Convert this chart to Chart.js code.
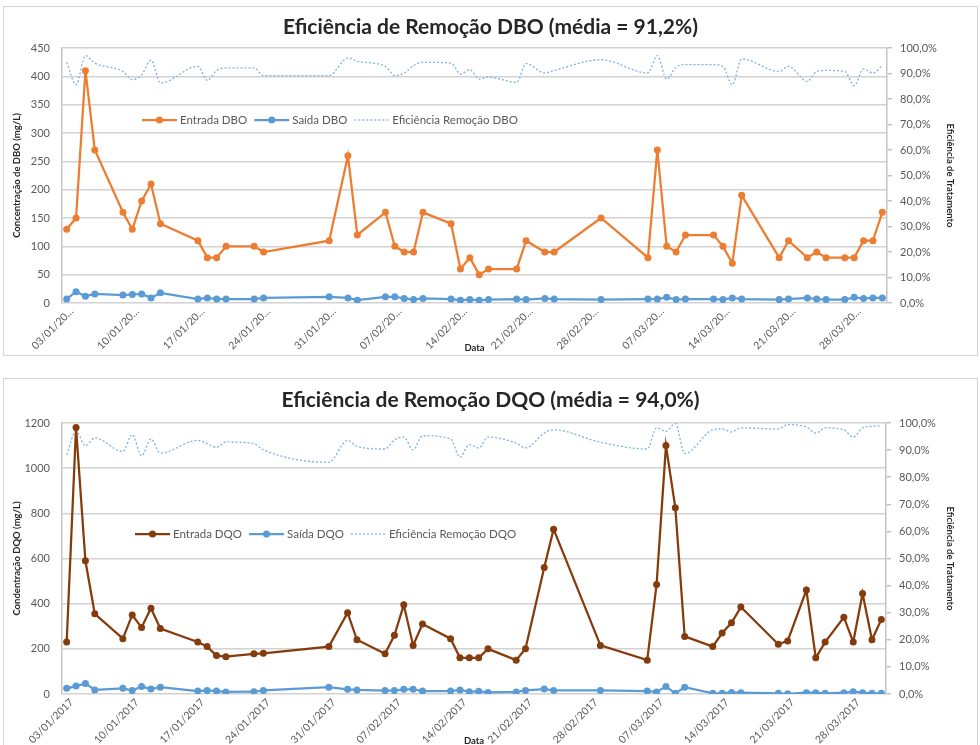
<!DOCTYPE html>
<html lang="pt">
<head>
<meta charset="utf-8">
<title>Eficiência de Remoção DBO / DQO</title>
<script src="https://cdn.jsdelivr.net/npm/chart.js@4.4.0/dist/chart.umd.min.js"></script>
<style>
  body { margin: 0; background: #fff; width: 980px; height: 745px; overflow: hidden; position: relative; }
  .caixa { position: absolute; left: 3px; width: 975px; border: 1px solid #d4d4d4; box-sizing: border-box; background: #fff; }
  #caixaDBO { top: 6px; height: 350px; }
  #caixaDQO { top: 378px; height: 370px; }
  canvas { display: block; }
</style>
</head>
<body>
<div class="caixa" id="caixaDBO"><canvas id="graficoDBO"></canvas></div>
<div class="caixa" id="caixaDQO"><canvas id="graficoDQO"></canvas></div>

<script>
// datas das amostras (2017)
const datas = ['03/01/2017', '04/01/2017', '05/01/2017', '06/01/2017', '09/01/2017', '10/01/2017', '11/01/2017',
  '12/01/2017', '13/01/2017', '17/01/2017', '18/01/2017', '19/01/2017', '20/01/2017', '23/01/2017', '24/01/2017',
  '31/01/2017', '02/02/2017', '03/02/2017', '06/02/2017', '07/02/2017', '08/02/2017', '09/02/2017', '10/02/2017',
  '13/02/2017', '14/02/2017', '15/02/2017', '16/02/2017', '17/02/2017', '20/02/2017', '21/02/2017', '23/02/2017',
  '24/02/2017', '01/03/2017', '06/03/2017', '07/03/2017', '08/03/2017', '09/03/2017', '10/03/2017', '13/03/2017',
  '14/03/2017', '15/03/2017', '16/03/2017', '20/03/2017', '21/03/2017', '23/03/2017', '24/03/2017', '25/03/2017',
  '27/03/2017', '28/03/2017', '29/03/2017', '30/03/2017', '31/03/2017'];

// marcas do eixo x (semanais)
const datasEixo = ['03/01/2017', '10/01/2017', '17/01/2017', '24/01/2017', '31/01/2017', '07/02/2017', '14/02/2017',
  '21/02/2017', '28/02/2017', '07/03/2017', '14/03/2017', '21/03/2017', '28/03/2017'];

// DBO (mg/L) e eficiência (%)
const entradaDBO = [130, 150, 410, 270, 160, 130, 180, 210, 140, 110, 80, 80, 100, 100, 90, 110, 260, 120, 160, 100,
  90, 90, 160, 140, 60, 80, 50, 60, 60, 110, 90, 90, 150, 80, 270, 100, 90, 120, 120, 100,
  70, 190, 80, 110, 80, 90, 80, 80, 80, 110, 110, 160];
const saidaDBO = [7, 20, 12, 16, 14, 15, 16, 9, 18, 7, 9, 7, 7, 7, 9, 11, 9, 5, 11, 11,
  8, 6, 8, 7, 5, 6, 5, 6, 7, 6, 8, 7, 6, 7, 7, 10, 6, 7, 7, 6,
  9, 7, 6, 7, 9, 7, 6, 6, 10, 8, 9, 9];
const eficienciaDBO = [94.4, 85.6, 97.0, 94.1, 90.8, 87.6, 89.5, 95.2, 86.3, 92.8, 87.3, 91.2, 92.2, 92.2, 89.2, 89.2,
  96.1, 94.8, 92.8, 89.2, 90.2, 93.1, 94.4, 94.1, 89.8, 91.5, 87.8, 88.6, 86.5, 93.9, 90.2, 91.2,
  95.4, 90.2, 97.0, 87.8, 92.5, 93.5, 93.5, 92.8, 85.6, 95.7, 90.8, 92.8, 86.9, 90.8, 91.2, 90.8,
  85.2, 91.8, 90.2, 93.1];

// DQO (mg/L) e eficiência (%)
const entradaDQO = [230, 1180, 590, 355, 245, 350, 295, 380, 290, 230, 210, 170, 165, 178, 180, 210, 360, 240, 178, 260,
  395, 215, 310, 245, 160, 160, 160, 200, 150, 200, 560, 730, 215, 150, 485, 1100, 825, 255, 210, 270,
  315, 385, 220, 235, 460, 160, 230, 340, 230, 445, 240, 330];
const saidaDQO = [25, 35, 47, 18, 25, 15, 33, 22, 30, 13, 16, 13, 9, 10, 16, 30, 21, 18, 15, 15,
  21, 21, 13, 13, 18, 10, 12, 7, 9, 16, 22, 16, 16, 13, 9, 33, 3, 30, 3, 3,
  7, 6, 3, 1, 6, 6, 3, 6, 10, 6, 3, 3];
const eficienciaDQO = [88.3, 96.9, 91.6, 94.5, 89.5, 95.7, 87.9, 94.1, 88.9, 93.6, 92.4, 91.0, 93.0, 92.4, 90.1, 85.5,
  93.6, 91.4, 90.4, 93.8, 94.8, 90.1, 95.3, 94.1, 87.4, 92.0, 90.8, 94.8, 92.6, 90.8, 96.3, 97.5,
  92.9, 90.4, 98.2, 96.9, 99.8, 88.7, 97.5, 97.8, 96.7, 98.2, 97.8, 99.4, 98.5, 96.3, 98.2, 97.5,
  94.8, 98.2, 98.8, 99.0];

// dias decorridos desde 03/01/2017
function dia(txt) {
  const [d, m, a] = txt.split('/').map(Number);
  return (Date.UTC(a, m - 1, d) - Date.UTC(2017, 0, 3)) / 86400000;
}
function pontos(valores) {
  return valores.map((v, i) => ({ x: dia(datas[i]), y: v }));
}

const FONTE = 'Lato, "Open Sans", sans-serif';
const CINZA = '#595959';

// legenda desenhada dentro da área do gráfico
const legendaInterna = {
  id: 'legendaInterna',
  afterDraw(chart, args, opts) {
    const ctx = chart.ctx;
    let x = opts.x;
    const y = opts.y;
    ctx.save();
    ctx.font = opts.font;
    ctx.textBaseline = 'middle';
    chart.data.datasets.forEach(ds => {
      ctx.strokeStyle = ds.borderColor;
      ctx.lineWidth = ds.borderWidth;
      ctx.setLineDash(ds.borderDash || []);
      ctx.beginPath();
      ctx.moveTo(x, y);
      ctx.lineTo(x + 35, y);
      ctx.stroke();
      if (ds.pointRadius > 0) {
        ctx.setLineDash([]);
        ctx.fillStyle = ds.borderColor;
        ctx.beginPath();
        ctx.arc(x + 17.5, y, ds.pointRadius, 0, Math.PI * 2);
        ctx.fill();
      }
      ctx.fillStyle = CINZA;
      ctx.fillText(ds.label, x + 38, y);
      x += 38 + ctx.measureText(ds.label).width + opts.espaco;
    });
    ctx.restore();
  }
};

function criarGrafico(id, c) {
  const ctx = document.getElementById(id).getContext('2d');
  return new Chart(ctx, {
    type: 'line',
    data: {
      datasets: [{
        label: c.nomes[0],
        data: pontos(c.entrada),
        borderColor: c.corEntrada,
        backgroundColor: c.corEntrada,
        borderWidth: 2.25,
        pointRadius: 3.5,
        pointBorderWidth: 0,
        tension: 0,
        yAxisID: 'y'
      }, {
        label: c.nomes[1],
        data: pontos(c.saida),
        borderColor: '#5b9bd5',
        backgroundColor: '#5b9bd5',
        borderWidth: 2.25,
        pointRadius: 3.5,
        pointBorderWidth: 0,
        tension: 0,
        yAxisID: 'y'
      }, {
        label: c.nomes[2],
        data: pontos(c.eficiencia),
        borderColor: '#7eb0e3',
        borderWidth: 1.3,
        borderDash: [2, 2],
        pointRadius: 0,
        cubicInterpolationMode: 'monotone',
        yAxisID: 'y2'
      }]
    },
    options: {
      responsive: false,
      animation: false,
      layout: { padding: 0 },
      scales: {
        x: {
          type: 'linear',
          min: -0.5,
          max: 87.5,
          afterBuildTicks: scale => { scale.ticks = datasEixo.map(d => ({ value: dia(d) })); },
          afterFit: scale => { scale.height = c.alturaX; },
          ticks: {
            autoSkip: false,
            minRotation: 45,
            maxRotation: 45,
            padding: 2,
            labelOffset: 5,
            color: CINZA,
            font: { family: FONTE, size: 10.5 },
            callback: (v, i) => c.rotulo(datasEixo[i])
          },
          grid: { display: false, drawTicks: false },
          border: { display: false },
          title: {
            display: true,
            text: 'Data',
            color: '#262626',
            font: { family: FONTE, size: 9.5, weight: 'bold' },
            padding: { top: 0, bottom: c.padData }
          }
        },
        y: {
          position: 'left',
          min: 0,
          max: c.yMax,
          afterFit: scale => { scale.width = 58; },
          ticks: {
            stepSize: c.yPasso,
            padding: 12,
            color: CINZA,
            font: { family: FONTE, size: 11 },
            callback: v => String(v)
          },
          grid: { color: '#d2d2d2', lineWidth: 1.5, drawTicks: false },
          border: { display: true, color: '#c4c4c4', width: 1.5 },
          title: {
            display: true,
            text: c.tituloY,
            color: '#262626',
            font: { family: FONTE, size: 9.5, weight: 'bold' },
            padding: { top: 7, bottom: 0 }
          }
        },
        y2: {
          position: 'right',
          min: 0,
          max: 100,
          afterFit: scale => { scale.width = c.larguraDir; },
          ticks: {
            stepSize: 10,
            padding: 8,
            color: CINZA,
            font: { family: FONTE, size: 11 },
            callback: v => v.toFixed(1).replace('.', ',') + '%'
          },
          grid: { drawOnChartArea: false, drawTicks: true, tickLength: 5, color: '#c4c4c4', lineWidth: 1.5 },
          border: { display: true, color: '#c4c4c4', width: 1.5 },
          title: {
            display: true,
            text: 'Eficiência de Tratamento',
            color: '#262626',
            font: { family: FONTE, size: 9.5, weight: 'bold' },
            padding: { top: 21, bottom: 0 }
          }
        }
      },
      plugins: {
        legend: { display: false },
        tooltip: { enabled: false },
        title: {
          display: true,
          text: c.titulo,
          color: '#262626',
          font: { family: FONTE, size: 21, weight: 'bold' },
          padding: c.padTitulo
        },
        legendaInterna: { x: c.legX, y: c.legY, espaco: 7, font: '11.5px ' + FONTE }
      }
    },
    plugins: [legendaInterna]
  });
}

function dimensionar(id, w, h) {
  const cv = document.getElementById(id);
  cv.width = w; cv.height = h;
  cv.style.width = w + 'px'; cv.style.height = h + 'px';
}
dimensionar('graficoDBO', 973, 348);
dimensionar('graficoDQO', 973, 368);

criarGrafico('graficoDBO', {
  titulo: 'Eficiência de Remoção DBO (média = 91,2%)',
  nomes: ['Entrada DBO', 'Saída DBO', 'Eficiência Remoção DBO'],
  entrada: entradaDBO,
  saida: saidaDBO,
  eficiencia: eficienciaDBO,
  corEntrada: '#ed7d31',
  yMax: 450,
  yPasso: 50,
  tituloY: 'Concentração de DBO (mg/L)',
  rotulo: d => d.slice(0, 8) + '…',
  alturaX: 52,
  larguraDir: 90,
  padData: 1.5,
  padTitulo: { top: 7.4, bottom: 8.4 },
  legX: 138,
  legY: 113
});

criarGrafico('graficoDQO', {
  titulo: 'Eficiência de Remoção DQO (média = 94,0%)',
  nomes: ['Entrada DQO', 'Saída DQO', 'Eficiência Remoção DQO'],
  entrada: entradaDQO,
  saida: saidaDQO,
  eficiencia: eficienciaDQO,
  corEntrada: '#843c0c',
  yMax: 1200,
  yPasso: 200,
  tituloY: 'Condentração DQO (mg/L)',
  rotulo: d => d,
  alturaX: 53,
  larguraDir: 91,
  padData: 0.5,
  padTitulo: { top: 8.4, bottom: 10.4 },
  legX: 131,
  legY: 155
});
</script>
</body>
</html>
